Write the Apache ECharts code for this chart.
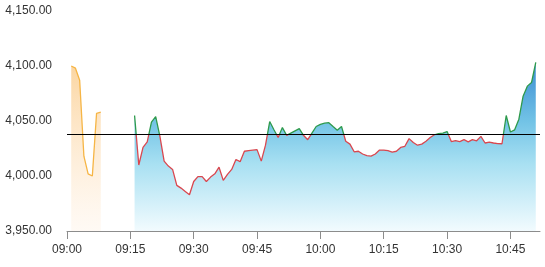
<!DOCTYPE html>
<html><head><meta charset="utf-8">
<script src="https://cdn.jsdelivr.net/npm/echarts@6/dist/echarts.min.js"></script>
<style>html,body{margin:0;padding:0;background:#fff}#c{width:545px;height:267px}</style>
</head><body><div id="c"></div>
<script>
// ---- data ----
const sessionStart = '09:00';
const xAxisEnd = '10:52';
const xTickLabels = ['09:00','09:15','09:30','09:45','10:00','10:15','10:30','10:45'];
const yTickValues = [3950, 4000, 4050, 4100, 4150];

// pre-open auction, one value per minute from 09:01
const preStartTime = '09:01';
const preValues = [4100, 4098, 4087, 4018, 4002, 4000, 4057, 4058];

// continuous session, one value per minute from 09:16
const mainStartTime = '09:16';
const mainValues = [
  4055, 4010, 4026, 4031, 4049, 4054, 4036, 4013.5, 4009, 4006,
  3991.5, 3989, 3986, 3983, 3995, 3999.5, 3999.5, 3995, 3999, 4002,
  4008, 3996, 4001.5, 4006, 4015, 4013, 4022.5, 4023, 4023.5, 4024,
  4013.5, 4028, 4049.5, 4042, 4035, 4044, 4037, 4039, 4041, 4043,
  4037, 4033, 4039, 4045, 4047, 4048, 4048.5, 4045, 4041.6, 4045,
  4031.6, 4029, 4022, 4022.5, 4020, 4018.5, 4018, 4020, 4023.6, 4023.6,
  4023, 4021.8, 4022.5, 4026, 4027, 4034, 4030.4, 4028, 4029, 4031.6,
  4035, 4037.5, 4038.6, 4039, 4040.4, 4031.3, 4032.2, 4031.3, 4033, 4031,
  4033, 4032, 4036, 4030, 4030.7, 4030, 4029.5, 4029.3, 4055, 4040,
  4042, 4051.6, 4072.6, 4081.7, 4085, 4103.3
];

const referenceLevel = 4038;
const upColor = '#2e9a4c';
const downColor = '#d9474f';

// ---- helpers ----
function toMin(t) { const p = t.split(':'); return (+p[0]) * 60 + (+p[1]); }
const base = toMin(sessionStart);
function fmtTime(v) {
  const m = base + Math.round(v);
  const h = Math.floor(m / 60), mm = m % 60;
  return (h < 10 ? '0' : '') + h + ':' + (mm < 10 ? '0' : '') + mm;
}
function fmtNum(v) {
  return v.toLocaleString('en-US', {minimumFractionDigits: 2, maximumFractionDigits: 2});
}
const preStart = toMin(preStartTime) - base;
const mainStart = toMin(mainStartTime) - base;
const preData = preValues.map((v, i) => [preStart + i, v]);
const mainData = mainValues.map((v, i) => [mainStart + i, v]);
const xTicks = xTickLabels.map(t => toMin(t) - base);

const chart = echarts.init(document.getElementById('c'), null, {renderer: 'canvas'});
chart.setOption({
  animation: false,
  backgroundColor: '#fff',
  grid: {left: 67, right: 5, top: 11, bottom: 36, containLabel: false},
  xAxis: {
    type: 'value',
    min: 0,
    max: toMin(xAxisEnd) - base,
    interval: 15,
    splitLine: {show: false},
    axisLine: {show: true, lineStyle: {color: '#8c8c8c', width: 1}},
    axisTick: {show: true, length: 8, lineStyle: {color: '#8c8c8c'}, customValues: xTicks},
    axisLabel: {
      color: '#333', fontSize: 12, fontFamily: 'Liberation Sans, Arial, sans-serif',
      margin: 13, customValues: xTicks, formatter: fmtTime
    }
  },
  yAxis: {
    type: 'value',
    min: yTickValues[0],
    max: yTickValues[yTickValues.length - 1],
    interval: 50,
    splitLine: {show: false},
    axisLine: {show: false},
    axisTick: {show: false},
    axisLabel: {
      color: '#333', fontSize: 12, fontFamily: 'Liberation Sans, Arial, sans-serif',
      margin: 15, formatter: fmtNum
    }
  },
  series: [
    {
      type: 'line',
      data: preData,
      showSymbol: false,
      lineStyle: {color: '#f6b545', width: 1.3},
      itemStyle: {color: '#f6b545'},
      areaStyle: {
        opacity: 1,
        color: new echarts.graphic.LinearGradient(0, 0, 0, 1, [
          {offset: 0, color: 'rgba(250,200,130,0.75)'},
          {offset: 1, color: 'rgba(255,240,225,0.35)'}
        ])
      }
    },
    {
      type: 'line',
      data: mainData,
      showSymbol: false,
      lineStyle: {width: 1.3, color: upColor},
      itemStyle: {color: upColor},
      areaStyle: {
        opacity: 1,
        color: new echarts.graphic.LinearGradient(0, 0, 0, 1, [
          {offset: 0, color: '#3a8bd2'},
          {offset: 0.35, color: '#72c3e6'},
          {offset: 0.6, color: '#a8e0f2'},
          {offset: 1, color: '#f2fbfe'}
        ])
      },
      markLine: {
        silent: true,
        symbol: ['none', 'none'],
        label: {show: false},
        lineStyle: {color: '#000', width: 1, type: 'solid'},
        data: [{yAxis: referenceLevel}]
      }
    }
  ]
});

// colour the main line green above the reference level and red below it
const H = chart.getHeight();
const yRef = chart.convertToPixel({yAxisIndex: 0}, referenceLevel);
const r = Math.min(Math.max(yRef / H, 0), 1);
chart.setOption({
  series: [{}, {
    lineStyle: {
      color: new echarts.graphic.LinearGradient(0, 0, 0, H, [
        {offset: 0, color: upColor},
        {offset: r, color: upColor},
        {offset: r, color: downColor},
        {offset: 1, color: downColor}
      ], true)
    }
  }]
});
</script>
</body></html>
